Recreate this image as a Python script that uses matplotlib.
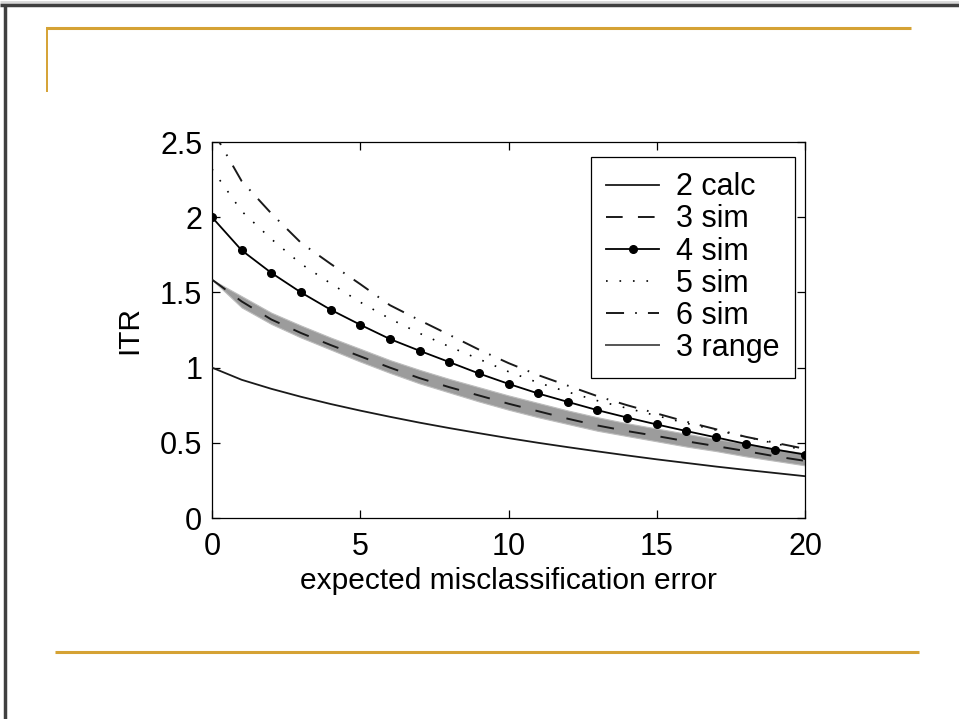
import numpy as np
import matplotlib
matplotlib.use("Agg")
import matplotlib.pyplot as plt
from matplotlib.lines import Line2D

plt.rcParams['font.family'] = ['Liberation Sans', 'DejaVu Sans']
plt.rcParams['lines.scale_dashes'] = False

# expected misclassification error (%)
error = list(range(0, 21))

itr_2_calc = [1.0, 0.919, 0.859, 0.806, 0.758, 0.714, 0.673, 0.634, 0.598, 0.564, 0.531,
              0.500, 0.471, 0.443, 0.416, 0.390, 0.366, 0.342, 0.320, 0.299, 0.278]
itr_3_sim = [1.585, 1.44, 1.32, 1.23, 1.15, 1.075, 1.00, 0.93, 0.87, 0.815, 0.76,
             0.71, 0.66, 0.615, 0.578, 0.545, 0.51, 0.478, 0.445, 0.41, 0.38]
itr_4_sim = [2.0, 1.78, 1.63, 1.50, 1.385, 1.285, 1.19, 1.112, 1.037, 0.961, 0.892,
             0.828, 0.772, 0.717, 0.668, 0.622, 0.578, 0.536, 0.493, 0.455, 0.422]
itr_5_sim = [2.32, 2.04, 1.855, 1.69, 1.56, 1.435, 1.325, 1.228, 1.14, 1.057, 0.973,
             0.90, 0.838, 0.78, 0.73, 0.68, 0.63, 0.585, 0.54, 0.495, 0.45]
itr_6_sim = [2.585, 2.24, 2.025, 1.83, 1.69, 1.555, 1.415, 1.315, 1.218, 1.12, 1.03,
             0.95, 0.88, 0.81, 0.75, 0.695, 0.64, 0.59, 0.54, 0.50, 0.46]
range_3_upper = [1.585, 1.475, 1.365, 1.28, 1.20, 1.125, 1.05, 0.985, 0.925, 0.87, 0.815,
                 0.765, 0.715, 0.67, 0.63, 0.595, 0.56, 0.525, 0.495, 0.46, 0.43]
range_3_lower = [1.585, 1.40, 1.29, 1.20, 1.12, 1.04, 0.965, 0.895, 0.835, 0.775, 0.72,
                 0.67, 0.625, 0.58, 0.545, 0.51, 0.475, 0.445, 0.41, 0.38, 0.35]

xticks = [0, 5, 10, 15, 20]
yticks = [0, 0.5, 1, 1.5, 2, 2.5]
ytick_labels = ["0", "0.5", "1", "1.5", "2", "2.5"]

W, H = 959, 719
fig = plt.figure(figsize=(W / 100, H / 100), dpi=100)

# slide decoration (pixel coords -> figure fraction)
def px_line(x0, y0, x1, y1, color, lw):
    fig.add_artist(Line2D([x0 / W, x1 / W], [1 - y0 / H, 1 - y1 / H],
                          color=color, lw=lw, solid_capstyle='butt'))

gold = '#D5A234'
px_line(0, 1.5, W, 1.5, '#d8d8d8', 2)
px_line(0, 5, W, 5, '#404040', 2.5)
px_line(5, 5, 5, H, '#404040', 2.5)
px_line(46, 28, 911, 28, gold, 2.2)
px_line(46.5, 27, 46.5, 92, gold, 1.4)
px_line(55, 652, 919, 652, gold, 2.2)

ax = fig.add_axes([212 / W, 1 - 518 / H, (805 - 212) / W, (518 - 142) / H])

ax.fill_between(error, range_3_lower, range_3_upper, color='#9c9c9c',
                edgecolor='#bdbdbd', lw=0.8, zorder=1)
ax.plot(error, itr_2_calc, color='#1a1a1a', lw=1.3, zorder=3)
ax.plot(error, itr_3_sim, color='#1a1a1a', lw=1.4, dashes=(12, 11), zorder=3)
ax.plot(error, itr_4_sim, color='black', lw=1.3, marker='o', ms=5.5, zorder=3)
ax.plot(error, itr_5_sim, color='black', lw=1.2, dashes=(1.2, 8.5), zorder=3)
ax.plot(error, itr_6_sim, color='#1a1a1a', lw=1.4, dashes=(13, 8, 1.2, 8), zorder=3)

ax.set_xlim(0, 20)
ax.set_ylim(0, 2.5)
ax.set_xticks(xticks)
ax.set_yticks(yticks)
ax.set_yticklabels(ytick_labels)
ax.tick_params(direction='in', length=6, width=0.9, top=True, right=True,
               labelsize=22)
ax.tick_params(axis='x', pad=10)
ax.tick_params(axis='y', pad=7)
for s in ax.spines.values():
    s.set_linewidth(0.9)

ax.set_xlabel("expected misclassification error", fontsize=21.5, labelpad=4)
ax.set_ylabel("ITR", fontsize=21.5, labelpad=12)

handles = [
    Line2D([], [], color='#1a1a1a', lw=1.3),
    Line2D([], [], color='#1a1a1a', lw=1.4, dashes=(12, 11)),
    Line2D([], [], color='black', lw=1.3, marker='o', ms=5.5),
    Line2D([], [], color='black', lw=1.2, dashes=(1.2, 8.5)),
    Line2D([], [], color='#1a1a1a', lw=1.4, dashes=(13, 8, 1.2, 8)),
    Line2D([], [], color='#555555', lw=1.4),
]
labels = ["2 calc", "3 sim", "4 sim", "5 sim", "6 sim", "3 range"]
leg = ax.legend(handles, labels, loc='upper right', bbox_to_anchor=(0.983, 0.960),
                borderaxespad=0, fontsize=22, frameon=True, fancybox=False,
                edgecolor='black', framealpha=1, handlelength=1.75,
                handletextpad=0.55, labelspacing=0.07, borderpad=0.5)
leg.get_frame().set_linewidth(0.9)

fig.savefig("out.png", dpi=100)
